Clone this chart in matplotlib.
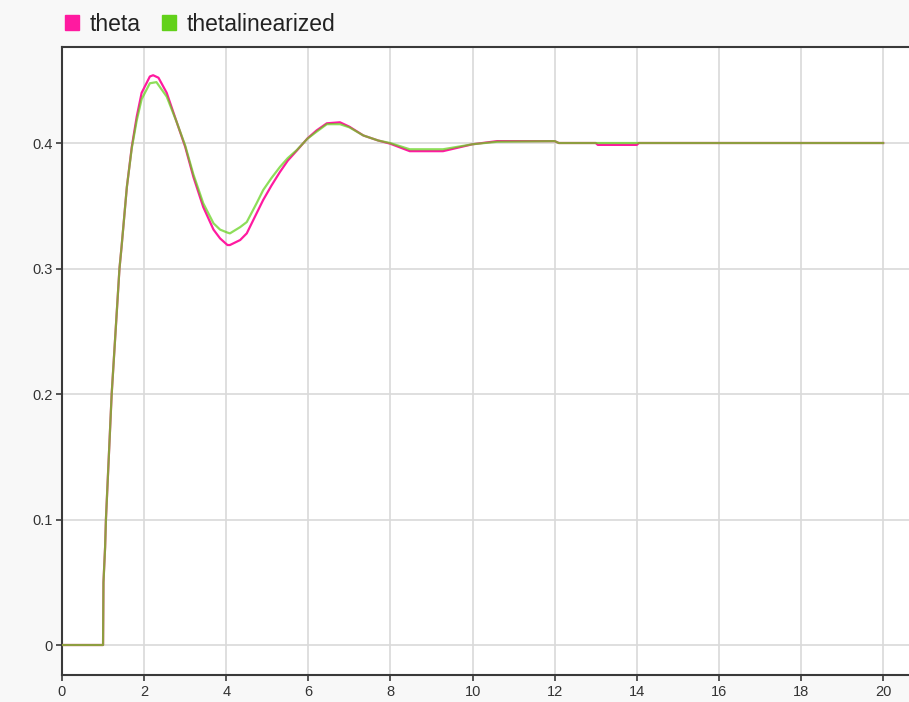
import matplotlib.pyplot as plt
from matplotlib.patches import Patch

# values
t_theta = [0, 1.0, 1.01, 1.05, 1.07, 1.21, 1.40, 1.45, 1.58, 1.70, 1.82, 1.94, 2.14, 2.22,
           2.35, 2.55, 2.79, 3.0, 3.2, 3.44, 3.69, 3.85, 4.03, 4.09, 4.34, 4.5, 4.74, 4.9,
           5.1, 5.31, 5.5, 5.72, 5.98, 6.2, 6.45, 6.77, 7.0, 7.34, 7.7, 7.99, 8.47, 9.28,
           10.0, 10.6, 12.0, 12.1, 13.0, 13.05, 14.0, 14.05, 20.0]
theta = [0, 0, 0.05, 0.078, 0.1, 0.2, 0.3, 0.317, 0.365, 0.397, 0.421, 0.44, 0.453, 0.454,
         0.452, 0.44, 0.417, 0.397, 0.373, 0.349, 0.331, 0.324, 0.3187, 0.3187, 0.3227, 0.328,
         0.344, 0.3546, 0.366, 0.377, 0.386, 0.394, 0.4037, 0.41, 0.4157, 0.4165, 0.413, 0.406,
         0.402, 0.3995, 0.3935, 0.3935, 0.399, 0.4015, 0.4015, 0.4, 0.4, 0.3985, 0.3985, 0.4, 0.4]

t_lin = [0, 1.0, 1.01, 1.05, 1.07, 1.21, 1.40, 1.45, 1.58, 1.70, 1.82, 1.94, 2.14, 2.3,
         2.55, 2.79, 3.0, 3.2, 3.44, 3.69, 3.85, 4.03, 4.09, 4.34, 4.5, 4.74, 4.9, 5.1,
         5.31, 5.5, 5.72, 5.98, 6.2, 6.45, 6.77, 7.0, 7.34, 7.7, 7.99, 8.47, 9.28, 10.0,
         10.6, 12.0, 12.1, 20.0]
thetalin = [0, 0, 0.05, 0.078, 0.1, 0.2, 0.3, 0.317, 0.365, 0.396, 0.418, 0.435, 0.4476, 0.4485,
            0.437, 0.417, 0.398, 0.375, 0.352, 0.336, 0.331, 0.3286, 0.328, 0.333, 0.337, 0.352,
            0.3625, 0.372, 0.381, 0.388, 0.3944, 0.4035, 0.409, 0.415, 0.415, 0.4125, 0.406,
            0.402, 0.4, 0.395, 0.395, 0.399, 0.401, 0.4015, 0.4, 0.4]

xticks = [0, 2, 4, 6, 8, 10, 12, 14, 16, 18, 20]
yticks = [0, 0.1, 0.2, 0.3, 0.4]

pink = '#ff1aa0'
green = '#62d11a'

plt.rcParams['font.family'] = ['Liberation Sans', 'DejaVu Sans']

fig = plt.figure(figsize=(9.09, 7.02), dpi=100, facecolor='#f8f8f8')
ax = fig.add_axes([62/909, 27/702, 847/909, 628/702])
ax.set_facecolor('white')

ax.plot(t_theta, theta, color=pink, lw=1.6, zorder=3)
ax.plot(t_lin, thetalin, color=green, lw=1.6, alpha=0.72, zorder=4)

ax.set_xlim(0, 20.63)
ax.set_ylim(-0.0239, 0.4765)
ax.set_xticks(xticks)
ax.set_xticklabels([str(v) for v in xticks])
ax.set_yticks(yticks)
ax.set_yticklabels(['0', '0.1', '0.2', '0.3', '0.4'])
ax.grid(True, color='#d9d9d9', lw=1.2)
ax.set_axisbelow(True)

for side in ['left', 'bottom', 'top']:
    ax.spines[side].set_color('#3a3a3a')
    ax.spines[side].set_linewidth(1.5)
ax.spines['right'].set_visible(False)
ax.tick_params(direction='out', length=4, width=1.2, color='#3a3a3a',
               labelsize=10.5, labelcolor='#333333', pad=3)

handles = [Patch(color=pink, label='theta'), Patch(color=green, label='thetalinearized')]
fig.legend(handles=handles, loc='upper left', bbox_to_anchor=(44/909, 1 + 8/702),
           ncol=2, frameon=False, fontsize=16.5, handlelength=0.62, handleheight=0.62,
           handletextpad=0.45, columnspacing=0.95, labelcolor='#222222')

fig.savefig('out.png', dpi=100, facecolor=fig.get_facecolor())
